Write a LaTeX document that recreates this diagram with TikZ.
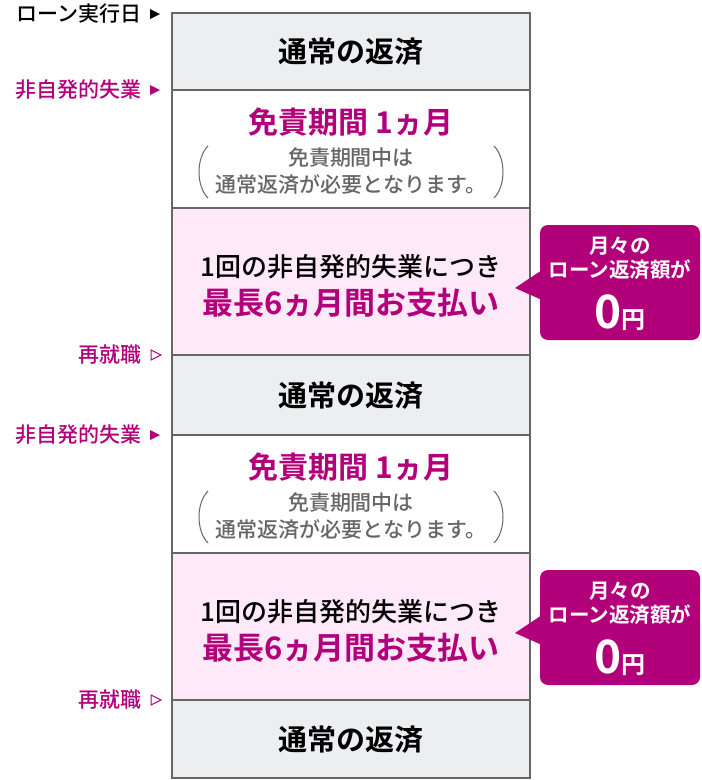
\documentclass[tikz,border=0pt]{standalone}
\usepackage{fontspec}
\setmainfont{Noto Sans CJK JP Medium}
\newfontfamily\jpb{Noto Sans CJK JP Bold}
\begin{document}
\begin{tikzpicture}[x=1pt,y=-1pt,
  row/.style={draw=black!60,line width=1.2pt},
  lbl/.style={anchor=east,font=\fontsize{21}{24}\selectfont,inner sep=0pt},
  call/.style={fill=magcol,rounded corners=8pt}]
\definecolor{magcol}{HTML}{B2007B}
\definecolor{grayfill}{HTML}{ECEEF0}
\definecolor{pinkfill}{HTML}{FDE9F7}
\useasboundingbox (0,0) rectangle (702,780);
\foreach \a/\b/\c in {13/90/grayfill,90/208/white,208/355/pinkfill,355/435/grayfill,435/553/white,553/700/pinkfill,700/778/grayfill}
  \filldraw[row,fill=\c] (172,\a) rectangle (530,\b);
\foreach \y/\nm in {52/g1,396/g2,740/g3}
  \node[font=\jpb\fontsize{29}{32}\selectfont] (\nm) at (351,\y) {通常の返済};
\foreach \y/\nm in {0/w1,345/w2}{
  \node[font=\jpb\fontsize{30}{32}\selectfont,text=magcol] (\nm t) at (351,122+\y) {免責期間 1ヵ月};
  \node[font=\fontsize{21}{27}\selectfont,text=black!60,align=center] (\nm s) at (351,171+\y) {免責期間中は\\通常返済が必要となります。};
  \draw[black!60,line width=1pt] (208,146+\y) .. controls (196,158+\y) and (196,186+\y) .. (208,198+\y);
  \draw[black!60,line width=1pt] (494,146+\y) .. controls (506,158+\y) and (506,186+\y) .. (494,198+\y);
}
\foreach \y/\nm in {0/p1,345/p2}{
  \node[font=\fontsize{26}{28}\selectfont] (\nm a) at (351,267+\y) {1回の非自発的失業につき};
  \node[font=\jpb\fontsize{31}{32}\selectfont,text=magcol] (\nm b) at (351,303+\y) {最長6ヵ月間お支払い};
  \fill[call] (540,225+\y) rectangle (700,340+\y);
  \fill[magcol] (542,270+\y) -- (515,288+\y) -- (542,300+\y) -- cycle;
  \node[text=white,font=\jpb\fontsize{20.5}{24}\selectfont,align=center] (\nm c) at (620,258+\y) {月々の\\ローン返済額が};
  \node[text=white,font=\jpb\fontsize{46}{46}\selectfont] (\nm d) at (620,313+\y) {0\fontsize{24}{24}\selectfont 円};
}
\node[lbl] (l1) at (142,14) {ローン実行日};
\node[lbl,text=magcol] (l2) at (142,90) {非自発的失業};
\node[lbl,text=magcol] (l3) at (142,355) {再就職};
\node[lbl,text=magcol] (l4) at (142,435) {非自発的失業};
\node[lbl,text=magcol] (l5) at (142,700) {再就職};
\fill (150,9) -- (160,14) -- (150,19) -- cycle;
\foreach \y in {90,435} \fill[magcol] (150,\y-5) -- (160,\y) -- (150,\y+5) -- cycle;
\foreach \y in {355,700} \draw[magcol,line width=1pt,line join=miter] (151,\y-5) -- (161,\y) -- (151,\y+5) -- cycle;
\end{tikzpicture}
\end{document}
